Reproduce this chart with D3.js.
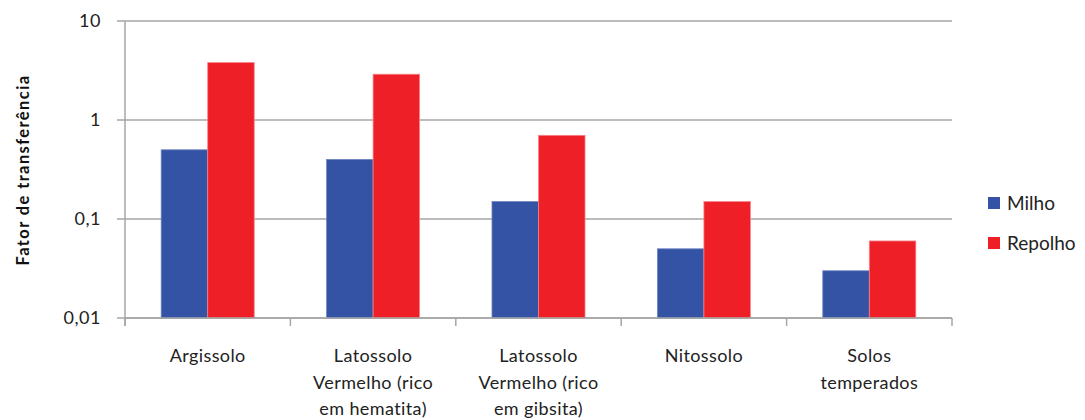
<!DOCTYPE html>
<html>
<head>
<meta charset="utf-8">
<script src="https://cdn.jsdelivr.net/npm/d3@7"></script>
<style>
  html, body { margin: 0; padding: 0; background: #fff; }
  svg { display: block; font-family: Lato, "Open Sans", sans-serif; }
</style>
</head>
<body>
<svg id="chart" width="1085" height="420"></svg>
<script>
// Soil classes (x categories), each split into lines for wrapped labels
const categories = [
  ["Argissolo"],
  ["Latossolo", "Vermelho (rico", "em hematita)"],
  ["Latossolo", "Vermelho (rico", "em gibsita)"],
  ["Nitossolo"],
  ["Solos", "temperados"]
];
const seriesNames = ["Milho", "Repolho"];
const milho   = [0.5, 0.4, 0.15, 0.05, 0.03];
const repolho = [3.8, 2.9, 0.7, 0.15, 0.06];
const yTicks = [0.01, 0.1, 1, 10];
const yTickLabels = ["0,01", "0,1", "1", "10"];
const yTitle = "Fator de transferência";
const colors = ["#3453A4", "#EE1F26"];

const svg = d3.select("#chart");
const plotLeft = 125, plotRight = 952, plotTop = 21, plotBottom = 318;

const x = d3.scaleBand().domain(d3.range(categories.length)).range([plotLeft, plotRight]).paddingInner(0).paddingOuter(0);
const barGroupFrac = 0.5625;
const xs = d3.scaleBand().domain(seriesNames)
  .range([0, x.bandwidth() * barGroupFrac]);
const y = d3.scaleLog().domain([0.01, 10]).range([plotBottom, plotTop]);

// gridlines
svg.append("g").selectAll("line").data(yTicks).join("line")
  .attr("x1", plotLeft - 8).attr("x2", plotRight)
  .attr("y1", d => y(d)).attr("y2", d => y(d))
  .attr("stroke", "#a6a6a6").attr("stroke-width", 1.5);

// bars
const offset = (x.bandwidth() - x.bandwidth() * barGroupFrac) / 2;
const seriesData = [milho, repolho];
seriesNames.forEach((name, si) => {
  svg.append("g").selectAll("rect").data(seriesData[si]).join("rect")
    .attr("x", (d, i) => x(i) + offset + xs(name))
    .attr("width", xs.bandwidth())
    .attr("y", d => y(d))
    .attr("height", d => y(0.01) - y(d))
    .attr("fill", colors[si])
    .attr("stroke", si === 0 ? "#6f86c0" : "#f6858a")
    .attr("stroke-width", 0.8);
});

// y axis line
svg.append("line").attr("x1", plotLeft).attr("x2", plotLeft)
  .attr("y1", plotTop).attr("y2", plotBottom + 8)
  .attr("stroke", "#a6a6a6").attr("stroke-width", 1.5);

// x axis with tick marks at category boundaries
const boundaries = d3.range(categories.length + 1).map(i => i === categories.length ? plotRight : x(i));
svg.append("g").selectAll("line").data(boundaries).join("line")
  .attr("x1", d => d).attr("x2", d => d)
  .attr("y1", plotBottom).attr("y2", plotBottom + 8)
  .attr("stroke", "#a6a6a6").attr("stroke-width", 1.5);
svg.append("line").attr("x1", plotLeft).attr("x2", plotRight)
  .attr("y1", plotBottom).attr("y2", plotBottom)
  .attr("stroke", "#a6a6a6").attr("stroke-width", 1.5);

// y tick labels
svg.append("g").selectAll("text").data(yTicks).join("text")
  .attr("x", 101).attr("y", d => y(d))
  .attr("dy", "0.35em")
  .attr("text-anchor", "end")
  .attr("font-size", 18)
  .attr("letter-spacing", 0.5)
  .attr("fill", "#222")
  .text((d, i) => yTickLabels[i]);

// category labels
const catG = svg.append("g").selectAll("text").data(categories).join("text")
  .attr("text-anchor", "middle")
  .attr("font-size", 18)
  .attr("letter-spacing", 0.4)
  .attr("fill", "#222");
catG.each(function(lines, i) {
  const t = d3.select(this);
  lines.forEach((ln, k) => {
    t.append("tspan")
      .attr("x", x(i) + x.bandwidth() / 2)
      .attr("y", 362 + k * 26.5)
      .text(ln);
  });
});

// y axis title
svg.append("text")
  .attr("transform", "translate(23,170) rotate(-90)")
  .attr("text-anchor", "middle")
  .attr("dy", "0.35em")
  .attr("font-size", 16.5)
  .attr("letter-spacing", 1.4)
  .attr("font-weight", "bold")
  .attr("fill", "#111")
  .text(yTitle);

// legend
const legend = svg.append("g").selectAll("g").data(seriesNames).join("g")
  .attr("transform", (d, i) => "translate(988," + (203 + i * 40) + ")");
legend.append("rect").attr("x", 0).attr("y", -6).attr("width", 12).attr("height", 12)
  .attr("fill", (d, i) => colors[i]);
legend.append("text").attr("x", 19).attr("y", 0).attr("dy", "0.35em")
  .attr("font-size", 19).attr("fill", "#222")
  .text(d => d);
</script>
</body>
</html>
